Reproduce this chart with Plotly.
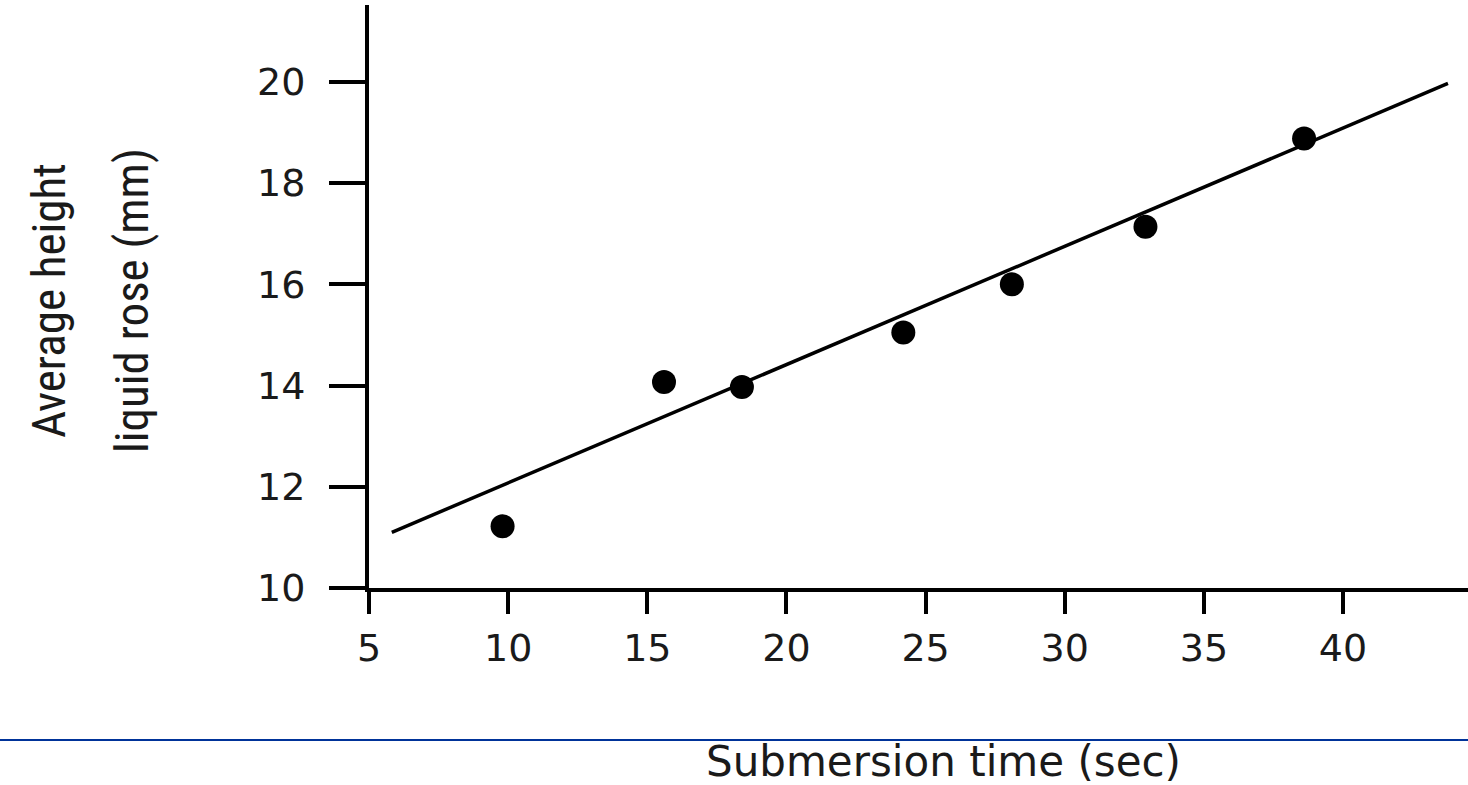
import plotly.graph_objects as go

# Data
times = [9.8, 15.6, 18.4, 24.2, 28.1, 32.9, 38.6]          # Submersion time (sec)
heights = [11.22, 14.07, 13.97, 15.05, 16.0, 17.14, 18.88]  # Average height liquid rose (mm)
fit_x = [5.82, 43.77]
fit_y = [11.10, 19.97]
x_ticks = [5, 10, 15, 20, 25, 30, 35, 40]
y_ticks = [10, 12, 14, 16, 18, 20]

W, H = 1468, 785

fig = go.Figure()
fig.add_trace(go.Scatter(x=fit_x, y=fit_y, mode="lines",
                         line=dict(color="black", width=3.5), showlegend=False,
                         cliponaxis=False))
fig.add_trace(go.Scatter(x=times, y=heights, mode="markers",
                         marker=dict(color="black", size=24, symbol="circle"),
                         showlegend=False))

tick_font = dict(family="DejaVu Sans, Verdana, sans-serif", size=38, color="#1a1a1a")

fig.update_layout(
    template="none",
    autosize=False,
    width=W, height=H,
    margin=dict(l=0, r=0, t=0, b=0, pad=0, autoexpand=False),
    paper_bgcolor="white", plot_bgcolor="white",
    xaxis=dict(domain=[369 / W, 1], range=[5, 44.49], tickvals=x_ticks,
               showline=True, linecolor="black", linewidth=4,
               ticks="outside", ticklen=22, tickwidth=4, tickcolor="black",
               showgrid=False, zeroline=False, tickfont=tick_font,
               ticklabelstandoff=1, automargin=False),
    yaxis=dict(domain=[1 - 588 / H, 1 - 5 / H], range=[10, 21.52], tickvals=y_ticks,
               showline=True, linecolor="black", linewidth=4,
               ticks="outside", ticklen=36, tickwidth=4, tickcolor="black",
               showgrid=False, zeroline=False, tickfont=tick_font,
               ticklabelstandoff=16, automargin=False),
    annotations=[
        dict(text="Average height", xref="paper", yref="paper",
             x=48 / W, y=1 - 301 / H, xanchor="center", yanchor="middle",
             textangle=-90, showarrow=False,
             font=dict(family="Liberation Sans Narrow, Roboto Condensed, Liberation Sans, Arial",
                       size=47, color="#1a1a1a")),
        dict(text="liquid rose (mm)", xref="paper", yref="paper",
             x=131 / W, y=1 - 301 / H, xanchor="center", yanchor="middle",
             textangle=-90, showarrow=False,
             font=dict(family="Liberation Sans Narrow, Roboto Condensed, Liberation Sans, Arial",
                       size=47, color="#1a1a1a")),
        dict(text="Submersion time (sec)", xref="paper", yref="paper",
             x=944 / W, y=1 - 761 / H, xanchor="center", yanchor="middle",
             showarrow=False,
             font=dict(family="DejaVu Sans, Verdana, sans-serif", size=42, color="#1a1a1a")),
    ],
    shapes=[
        dict(type="line", xref="paper", yref="paper", x0=0, x1=1,
             y0=1 - 740 / H, y1=1 - 740 / H,
             line=dict(color="#003399", width=2)),
    ],
)

fig.write_html("out.html")
